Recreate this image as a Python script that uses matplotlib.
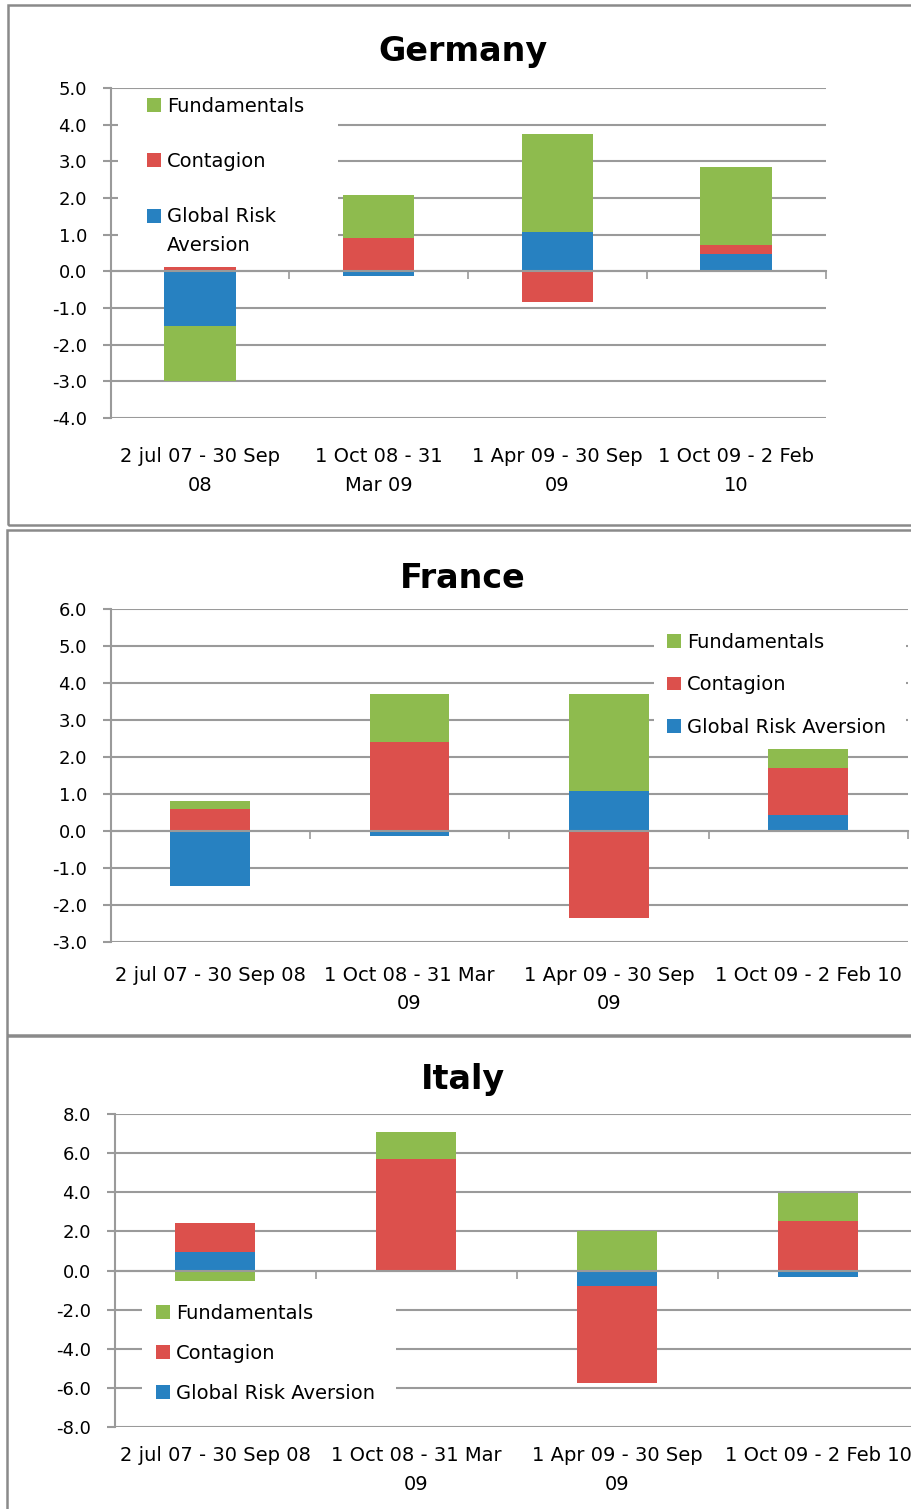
import matplotlib
matplotlib.use("Agg")
import matplotlib.pyplot as plt
import numpy as np
from matplotlib.patches import Rectangle, Patch
from matplotlib.legend_handler import HandlerPatch

plt.rcParams['font.family'] = ['DejaVu Sans']
plt.rcParams['axes.unicode_minus'] = False

# ---------------- data ----------------
series_names = ["Global Risk Aversion", "Contagion", "Fundamentals"]

germany_labels = ["2 jul 07 - 30 Sep\n08", "1 Oct 08 - 31\nMar 09",
                  "1 Apr 09 - 30 Sep\n09", "1 Oct 09 - 2 Feb\n10"]
germany_gra = [-1.50, -0.12, 1.06, 0.48]
germany_contagion = [0.12, 0.91, -0.84, 0.24]
germany_fund = [-1.50, 1.18, 2.68, 2.12]
germany_yticks = [-4.0, -3.0, -2.0, -1.0, 0.0, 1.0, 2.0, 3.0, 4.0, 5.0]

france_labels = ["2 jul 07 - 30 Sep 08", "1 Oct 08 - 31 Mar\n09",
                 "1 Apr 09 - 30 Sep\n09", "1 Oct 09 - 2 Feb 10"]
france_gra = [-1.48, -0.13, 1.08, 0.44]
france_contagion = [0.60, 2.41, -2.36, 1.26]
france_fund = [0.22, 1.29, 2.62, 0.52]
france_yticks = [-3.0, -2.0, -1.0, 0.0, 1.0, 2.0, 3.0, 4.0, 5.0, 6.0]

italy_labels = ["2 jul 07 - 30 Sep 08", "1 Oct 08 - 31 Mar\n09",
                "1 Apr 09 - 30 Sep\n09", "1 Oct 09 - 2 Feb 10"]
italy_gra = [0.96, 0.00, -0.79, -0.32]
italy_contagion = [1.45, 5.72, -4.98, 2.53]
italy_fund = [-0.53, 1.38, 2.00, 1.43]
italy_yticks = [-8.0, -6.0, -4.0, -2.0, 0.0, 2.0, 4.0, 6.0, 8.0]

# ---------------- style ----------------
W, H = 911, 1509
COLORS = {"Global Risk Aversion": "#2781C1", "Contagion": "#DC504C",
          "Fundamentals": "#8EBB4E"}
GRID = "#9a9a9a"
FS_TICK = 13
FS_LAB = 14
FS_LEG = 14
FS_TITLE = 24

fig = plt.figure(figsize=(W / 100, H / 100), dpi=100)


class RaisedHandler(HandlerPatch):
    def __init__(self, shift, **kw):
        super().__init__(**kw)
        self.shift = shift

    def create_artists(self, legend, orig_handle, xdescent, ydescent, width,
                       height, fontsize, trans):
        p = Rectangle((-xdescent, -ydescent + self.shift * fontsize), width,
                      height, facecolor=orig_handle.get_facecolor(),
                      edgecolor="none", transform=trans)
        return [p]


def fx(x):
    return x / W


def fy(y):
    return 1 - y / H


def panel(title, labels, gra, con, fund, yticks, ax_px, title_y, leg_labels,
          leg_anchor, leg_spacing, box_px, xlab_pad, raised_last=False):
    l, r, t, b = ax_px
    ax = fig.add_axes([fx(l), fy(b), fx(r - l), (b - t) / H])
    x = np.arange(len(labels))
    pos_bottom = np.zeros(len(labels))
    neg_bottom = np.zeros(len(labels))
    handles = []
    for name, vals in zip(series_names, [gra, con, fund]):
        vals = np.asarray(vals, dtype=float)
        bottoms = np.where(vals >= 0, pos_bottom, neg_bottom)
        ax.bar(x, vals, width=0.4, bottom=bottoms, color=COLORS[name],
               edgecolor="none", zorder=1)
        pos_bottom = pos_bottom + np.where(vals >= 0, vals, 0)
        neg_bottom = neg_bottom + np.where(vals < 0, vals, 0)
        handles.append(Patch(facecolor=COLORS[name], edgecolor="none"))

    ax.set_xlim(-0.5, len(labels) - 0.5)
    ax.set_ylim(yticks[0], yticks[-1])
    ax.set_yticks(yticks)
    ax.set_yticklabels([f"{v:.1f}" for v in yticks], fontsize=FS_TICK)
    ax.set_axisbelow(True)
    ax.yaxis.grid(True, color=GRID, linewidth=1.5)
    ax.xaxis.grid(False)
    for s in ["top", "right"]:
        ax.spines[s].set_visible(False)
    ax.spines["left"].set_color(GRID)
    ax.spines["left"].set_linewidth(1.5)
    ax.spines["bottom"].set_position(("data", 0))
    ax.spines["bottom"].set_color(GRID)
    ax.spines["bottom"].set_linewidth(1.5)
    ax.spines["bottom"].set_zorder(3)
    ax.set_xticks(np.arange(len(labels)) + 0.5)
    ax.tick_params(axis="x", labelbottom=False, direction="out", length=5.5,
                   width=1.2, color=GRID)
    ax.tick_params(axis="y", direction="out", length=6, width=1.5,
                   color=GRID, pad=11, labelcolor="black")

    sec = ax.secondary_xaxis("bottom")
    sec.set_xticks(x, labels=labels)
    sec.tick_params(length=0, pad=xlab_pad, labelsize=FS_LAB)
    sec.spines["bottom"].set_visible(False)
    for tl in sec.get_xticklabels():
        tl.set_linespacing(1.65)

    # white area behind the legend
    bx0, bx1, by0, by1 = box_px
    ax.add_patch(Rectangle(((bx0 - l) / (r - l), (b - by1) / (b - t)),
                           (bx1 - bx0) / (r - l), (by1 - by0) / (b - t),
                           transform=ax.transAxes, facecolor="white",
                           edgecolor="none", zorder=0.8))

    order = ["Fundamentals", "Contagion", "Global Risk Aversion"]
    leg_handles = [handles[series_names.index(n)] for n in order]
    hmap = {}
    if raised_last:
        hmap[leg_handles[2]] = RaisedHandler(0.78)
    leg = ax.legend(leg_handles, leg_labels, loc="upper left",
                    bbox_to_anchor=(fx(leg_anchor[0]), fy(leg_anchor[1])),
                    bbox_transform=fig.transFigure, frameon=False,
                    fontsize=FS_LEG, handlelength=0.72, handleheight=0.72,
                    handletextpad=0.3, labelspacing=leg_spacing,
                    borderpad=0, borderaxespad=0, handler_map=hmap)
    leg.set_zorder(5)
    for txt in leg.get_texts():
        txt.set_linespacing(1.65)

    fig.text(fx(463), fy(title_y), title, ha="center", va="center",
             fontsize=FS_TITLE, fontweight="bold")
    return ax


panel("Germany", germany_labels, germany_gra, germany_contagion, germany_fund,
      germany_yticks, (110.5, 825.6, 88, 418), 51,
      ["Fundamentals", "Contagion", "Global Risk\nAversion"], (147, 97), 1.85,
      (118, 338, 90, 260), 21, raised_last=True)

panel("France", france_labels, france_gra, france_contagion, france_fund,
      france_yticks, (110.5, 908, 609, 942), 578,
      ["Fundamentals", "Contagion", "Global Risk Aversion"], (667, 633), 1.2,
      (654, 906, 624, 745), 17)

panel("Italy", italy_labels, italy_gra, italy_contagion, italy_fund,
      italy_yticks, (114.5, 918.5, 1114.3, 1426.7), 1080,
      ["Fundamentals", "Contagion", "Global Risk Aversion"], (156, 1304), 1.08,
      (142, 396, 1295, 1410), 14)

# panel frames
BORDER = "#8a8a8a"
for (x0, y0, x1, y1) in [(8, 5, 930, 525), (7, 530, 930, 1035),
                         (7, 1036, 930, 1530)]:
    fig.patches.append(Rectangle((fx(x0), fy(y1)), fx(x1 - x0), (y1 - y0) / H,
                                 transform=fig.transFigure, fill=False,
                                 edgecolor=BORDER, linewidth=1.8))

fig.savefig("out.png", dpi=100)
